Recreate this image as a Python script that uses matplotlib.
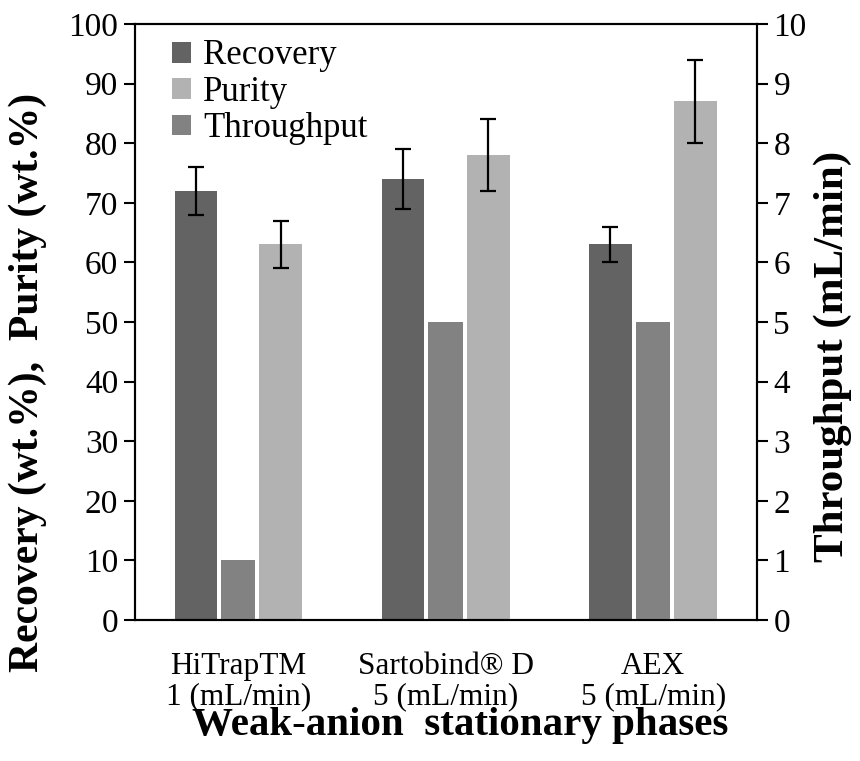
import numpy as np
import matplotlib
matplotlib.use('Agg')
import matplotlib.pyplot as plt

plt.rcParams['font.family'] = ['Liberation Serif', 'DejaVu Serif']

# data
phases = ['HiTrapTM\n1 (mL/min)', 'Sartobind\u00ae D\n5 (mL/min)', 'AEX\n5 (mL/min)']
recovery = [72, 74, 63]
recovery_err = [4, 5, 3]
purity = [63, 78, 87]
purity_err = [4, 6, 7]
throughput = [1, 5, 5]

c_rec = '#636363'
c_pur = '#b2b2b2'
c_thr = '#828282'

fig = plt.figure(figsize=(8.6, 7.61), dpi=100)
ax = fig.add_axes([0.157, 0.1853, 0.723, 0.7832])
ax2 = ax.twinx()

x = np.arange(len(phases)) + 0.5
ebar = dict(elinewidth=1.6, capsize=6, capthick=1.6, ecolor='black')

b_rec = ax.bar(x - 0.206, recovery, 0.205, color=c_rec, yerr=recovery_err, error_kw=ebar, zorder=2)
b_pur = ax.bar(x + 0.204, purity, 0.207, color=c_pur, yerr=purity_err, error_kw=ebar, zorder=2)
b_thr = ax2.bar(x - 0.002, throughput, 0.165, color=c_thr, zorder=2)

ax.set_xlim(0, 3)
ax.set_ylim(0, 100)
ax.set_yticks(np.arange(0, 101, 10))
ax2.set_ylim(0, 10)
ax2.set_yticks(np.arange(0, 11, 1))
ax.set_xticks(x)
ax.set_xticklabels(phases, fontsize=22.5, linespacing=1.05)
ax.tick_params(axis='x', length=0, pad=23)
ax.tick_params(axis='y', labelsize=24, length=8, width=1.5, direction='out', pad=4)
ax2.tick_params(axis='y', labelsize=24, length=8, width=1.5, direction='out', pad=4)

for a in (ax, ax2):
    for s in a.spines.values():
        s.set_linewidth(1.5)

# axis titles placed by hand, they sit off-centre in the original
fig.text(0.535, 0.034, 'Weak-anion  stationary phases', fontsize=29.5, fontweight='bold',
         ha='center', va='baseline')
fig.text(0.0326, 0.498, 'Recovery (wt.%),  Purity (wt.%)', fontsize=30, fontweight='bold',
         rotation=90, ha='center', va='center')
fig.text(0.9686, 0.531, 'Throughput (mL/min)', fontsize=31, fontweight='bold',
         rotation=90, ha='center', va='center')

leg = ax.legend([b_rec, b_pur, b_thr], ['Recovery', 'Purity', 'Throughput'],
                loc='upper left', bbox_to_anchor=(0.02, 1.015), frameon=False,
                fontsize=25, handlelength=0.55, handleheight=0.55, handletextpad=0.35,
                labelspacing=0.1, borderaxespad=0.3)

fig.savefig('out.png', dpi=100)
